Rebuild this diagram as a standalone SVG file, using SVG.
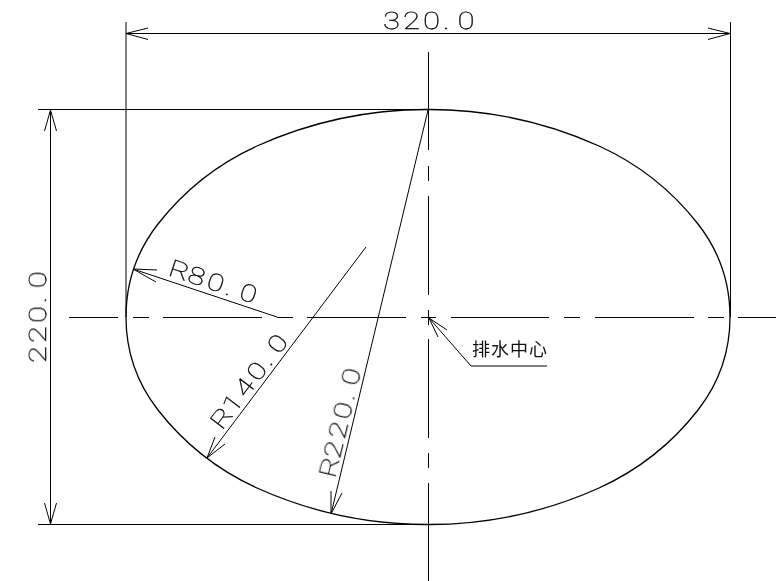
<svg xmlns="http://www.w3.org/2000/svg" width="776" height="581" viewBox="0 0 776 581">
<style>
.l{fill:none;stroke:#000;stroke-width:1}
.o{fill:none;stroke:#000;stroke-width:1.300}
.t{font-family:"Roboto","Liberation Sans",sans-serif;font-weight:100;font-size:24px;fill:#000;stroke:#000;stroke-width:.3;text-rendering:geometricPrecision}
.c{font-family:"Noto Sans CJK SC","Noto Sans CJK JP",sans-serif;font-size:18px;letter-spacing:1px;fill:#111}
</style>
<defs><filter id="gray" filterUnits="userSpaceOnUse" x="0" y="0" width="776" height="581"><feOffset dx="0" dy="0"/></filter></defs>
<rect width="776" height="581" fill="#fff"/>
<g id="oval">
<path class="o" d="M126 317A151 151 0 0 1 158 224A264 264 0 0 1 257 146A414 414 0 0 1 428 109.500A414 414 0 0 1 599 146A264 264 0 0 1 698 224A151 151 0 0 1 730 317A151 151 0 0 1 698 410A264 264 0 0 1 599 488A414 414 0 0 1 428 524.500A414 414 0 0 1 257 488A264 264 0 0 1 158 410A151 151 0 0 1 126 317Z"/>
</g>
<g id="connectors">
<path class="l" d="M69 317.500H118M133 317.500H149M163 317.500H262M277 317.500H293M307 317.500H406M421 317.500H436M451 317.500H549M564 317.500H580M595 317.500H694M708 317.500H724M738 317.500H776"/>
<path class="l" d="M428.500 52V150M428.500 166V181M428.500 196V295M428.500 310V325M428.500 339V438M428.500 453V468M428.500 483V581"/>
<path class="l" d="M126 22V317M730.500 22V317"/>
<path class="l" d="M38 109.500H428M38 524.500H428"/>
<path class="l" d="M126 33.500H730M148 28L126 33.500L148 39.500M708 28L730 33.500L708 39.500"/>
<path class="l" d="M50.500 110V524M44.500 131L50.500 110L56.500 131M44.500 503L50.500 524L56.500 503"/>
<path class="l" d="M277 317L133 269M156 282L133 269L157 270"/>
<path class="l" d="M366 247L207 458M215 437L207 458L225 444"/>
<path class="l" d="M428 110L331 514M331 491L331 514L342 493"/>
<path class="l" d="M429 318L471 366H547M447 330L429 318L438 337"/>
</g>
<g filter="url(#gray)">
<g id="label-320"><text class="t" transform="translate(383 29) scale(1.300 1)" x="0 15.400 30.800 46 57.400">320.0</text></g>
<g id="label-220"><text class="t" transform="translate(46 363) rotate(-90) scale(1.300 1)" x="0 15.400 30.800 46 57.400">220.0</text></g>
<g id="label-r80"><text class="t" transform="translate(167 275) rotate(18.400) scale(1.300 1)" x="0 15.400 30.800 46 57.400">R80.0</text></g>
<g id="label-r140"><text class="t" transform="translate(222 431) rotate(-53) scale(1.300 1)" x="0 15.400 30.800 46.200 61.400 72.800">R140.0</text></g>
<g id="label-r220"><text class="t" transform="translate(335 479) rotate(-76.500) scale(1.300 1)" x="0 15.400 30.800 46.200 61.400 72.800">R220.0</text></g>
<g id="label-drain"><text class="c" x="472" y="355.500">排水中心</text></g>
</g>
</svg>
